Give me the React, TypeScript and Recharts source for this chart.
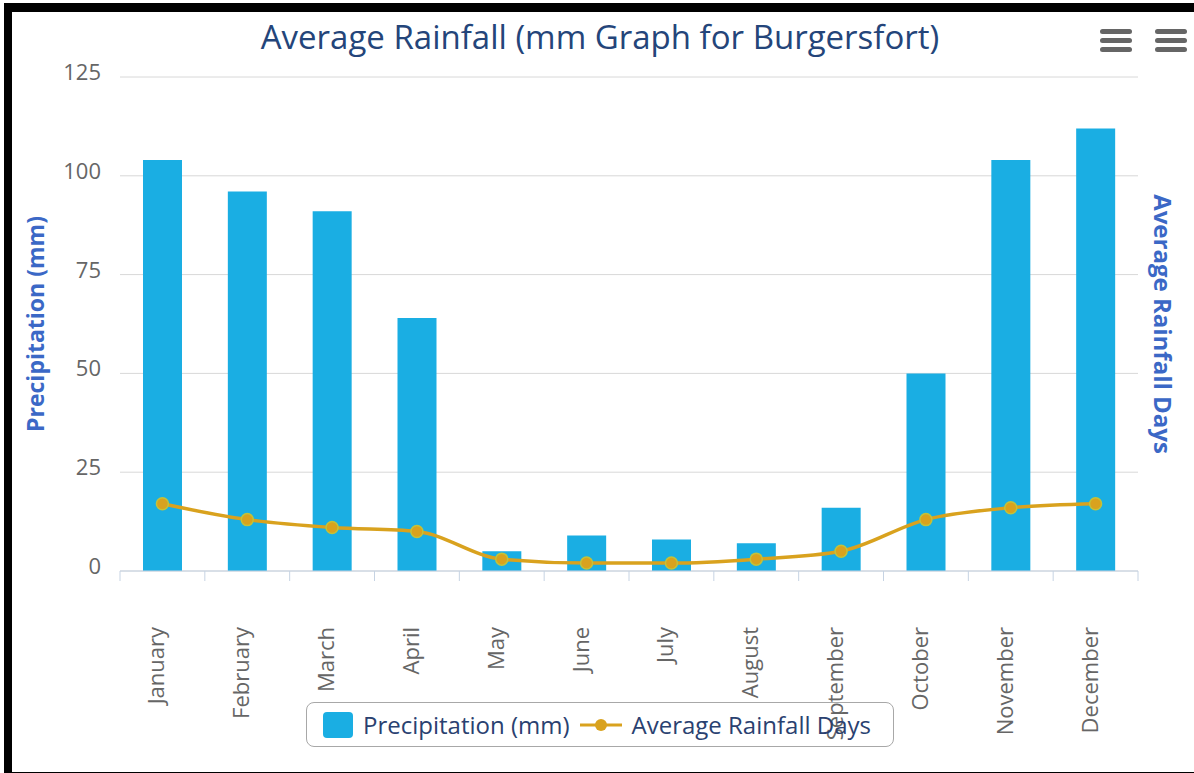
import {
  ComposedChart,
  Bar,
  Line,
  XAxis,
  YAxis,
  CartesianGrid,
  Legend,
} from "recharts";

const months = [
  "January",
  "February",
  "March",
  "April",
  "May",
  "June",
  "July",
  "August",
  "September",
  "October",
  "November",
  "December",
];
const precipitation = [104, 96, 91, 64, 5, 9, 8, 7, 16, 50, 104, 112];
const rainfallDays = [17, 13, 11, 10, 3, 2, 2, 3, 5, 13, 16, 17];
const yTicks = [0, 25, 50, 75, 100, 125];

const data = months.map((month, i) => ({
  month,
  precipitation: precipitation[i],
  days: rainfallDays[i],
}));

const FONT = '"Open Sans", sans-serif';
const BAR_COLOR = "#1aaee3";
const LINE_COLOR = "#d9a21e";
const AXIS_TITLE = "#3b68c6";
const TEXT = "#666666";
const AXIS_LINE = "#c6d3e3";

const WIDTH = 1194;
const HEIGHT = 773;
const PLOT_LEFT = 120;
const PLOT_RIGHT = 1138;
const BAND = (PLOT_RIGHT - PLOT_LEFT) / months.length;

// category labels sit below the axis, rotated, with tick marks on the band edges
function MonthTick(props: any) {
  const { x, y, payload, index } = props;
  return (
    <g>
      <line x1={x - BAND / 2} x2={x - BAND / 2} y1={y} y2={y + 10} stroke={AXIS_LINE} />
      {index === months.length - 1 && (
        <line x1={x + BAND / 2} x2={x + BAND / 2} y1={y} y2={y + 10} stroke={AXIS_LINE} />
      )}
      <text
        transform={`translate(${x + 2},${y + 56}) rotate(-90)`}
        textAnchor="end"
        fill={TEXT}
        fontSize={22}
        fontFamily={FONT}
      >
        {payload.value}
      </text>
    </g>
  );
}

function ValueTick(props: any) {
  const { y, payload } = props;
  return (
    <text x={101} y={y - 6} textAnchor="end" dominantBaseline="central" fill={TEXT} fontSize={22} fontFamily={FONT}>
      {payload.value}
    </text>
  );
}

function LeftTitle(props: any) {
  const { viewBox } = props;
  const cy = viewBox.y + viewBox.height / 2;
  return (
    <text
      transform={`translate(44,${cy}) rotate(-90)`}
      textAnchor="middle"
      fill={AXIS_TITLE}
      fontSize={23}
      fontWeight="bold"
      fontFamily={FONT}
    >
      Precipitation (mm)
    </text>
  );
}

function RightTitle(props: any) {
  const { viewBox } = props;
  const cy = viewBox.y + viewBox.height / 2;
  return (
    <text
      transform={`translate(1154,${cy}) rotate(90)`}
      textAnchor="middle"
      fill={AXIS_TITLE}
      fontSize={24}
      fontWeight="bold"
      fontFamily={FONT}
    >
      Average Rainfall Days
    </text>
  );
}

function LegendBox(props: any) {
  // bars first, then the line
  const items = [...(props.payload || [])].sort((a: any, b: any) =>
    a.type === b.type ? 0 : a.type === "rect" ? -1 : 1
  );
  return (
    <div
      style={{
        boxSizing: "border-box",
        width: "100%",
        height: "100%",
        border: "1px solid #a8a8a8",
        borderRadius: 8,
        display: "flex",
        alignItems: "center",
        paddingLeft: 16,
        fontFamily: FONT,
        fontSize: 24,
        color: "#2a4170",
      }}
    >
      {items.map((entry: any) => (
        <div key={entry.value} style={{ display: "flex", alignItems: "center", marginRight: 10 }}>
          {entry.type === "rect" ? (
            <span
              style={{
                display: "inline-block",
                width: 30,
                height: 26,
                background: entry.color,
                borderRadius: 4,
                marginRight: 10,
              }}
            />
          ) : (
            <svg width={42} height={20} style={{ marginRight: 10 }}>
              <line x1={0} x2={42} y1={10} y2={10} stroke={entry.color} strokeWidth={3} />
              <circle cx={21} cy={10} r={6} fill={entry.color} />
            </svg>
          )}
          <span>{entry.value}</span>
        </div>
      ))}
    </div>
  );
}

function MenuIcon({ left }: { left: number }) {
  return (
    <div style={{ position: "absolute", left, top: 29, width: 32 }}>
      {[0, 1, 2].map((i) => (
        <div
          key={i}
          style={{ height: 5, borderRadius: 3, background: "#666", marginBottom: 4 }}
        />
      ))}
    </div>
  );
}

export default function App() {
  return (
    <div
      style={{
        position: "absolute",
        left: 0,
        top: 0,
        width: WIDTH,
        height: HEIGHT,
        background: "#fff",
        overflow: "hidden",
      }}
    >
      <ComposedChart
        width={WIDTH}
        height={HEIGHT}
        data={data}
        margin={{ top: 77, right: 0, bottom: 52, left: 0 }}
      >
        <CartesianGrid yAxisId="left" vertical={false} stroke="#d8d8d8" />
        <XAxis
          dataKey="month"
          height={150}
          interval={0}
          tickLine={false}
          tickSize={0}
          tickMargin={0}
          axisLine={{ stroke: AXIS_LINE }}
          tick={<MonthTick />}
        />
        <YAxis
          yAxisId="left"
          width={120}
          domain={[0, 125]}
          ticks={yTicks}
          axisLine={false}
          tickLine={false}
          tick={<ValueTick />}
          label={{ content: <LeftTitle /> }}
        />
        <YAxis
          yAxisId="right"
          orientation="right"
          width={56}
          domain={[0, 125]}
          ticks={yTicks}
          axisLine={false}
          tickLine={false}
          tick={false}
          label={{ content: <RightTitle /> }}
        />
        <Bar
          yAxisId="left"
          dataKey="precipitation"
          name="Precipitation (mm)"
          fill={BAR_COLOR}
          barSize={39}
          legendType="rect"
          isAnimationActive={false}
        />
        <Line
          yAxisId="right"
          dataKey="days"
          name="Average Rainfall Days"
          type="monotone"
          stroke={LINE_COLOR}
          strokeWidth={3.5}
          dot={{ r: 6, fill: LINE_COLOR, stroke: "#c2c23a", strokeWidth: 1.5 }}
          legendType="line"
          isAnimationActive={false}
        />
        <Legend
          layout="horizontal"
          align="center"
          verticalAlign="middle"
          content={<LegendBox />}
          wrapperStyle={{ left: 306, top: 702, width: 588, height: 45 }}
        />
      </ComposedChart>

      <div
        style={{
          position: "absolute",
          left: 0,
          width: 1200,
          top: 14,
          textAlign: "center",
          fontFamily: FONT,
          fontSize: 33,
          color: "#24457a",
          whiteSpace: "nowrap",
        }}
      >
        Average Rainfall (mm Graph for Burgersfort)
      </div>
      <MenuIcon left={1100} />
      <MenuIcon left={1155} />

      <div
        style={{
          position: "absolute",
          left: 4,
          top: 3,
          width: 1196,
          height: 776,
          boxSizing: "border-box",
          borderStyle: "solid",
          borderColor: "#000",
          borderWidth: "9px 6px 7px 8px",
          pointerEvents: "none",
        }}
      />
    </div>
  );
}
